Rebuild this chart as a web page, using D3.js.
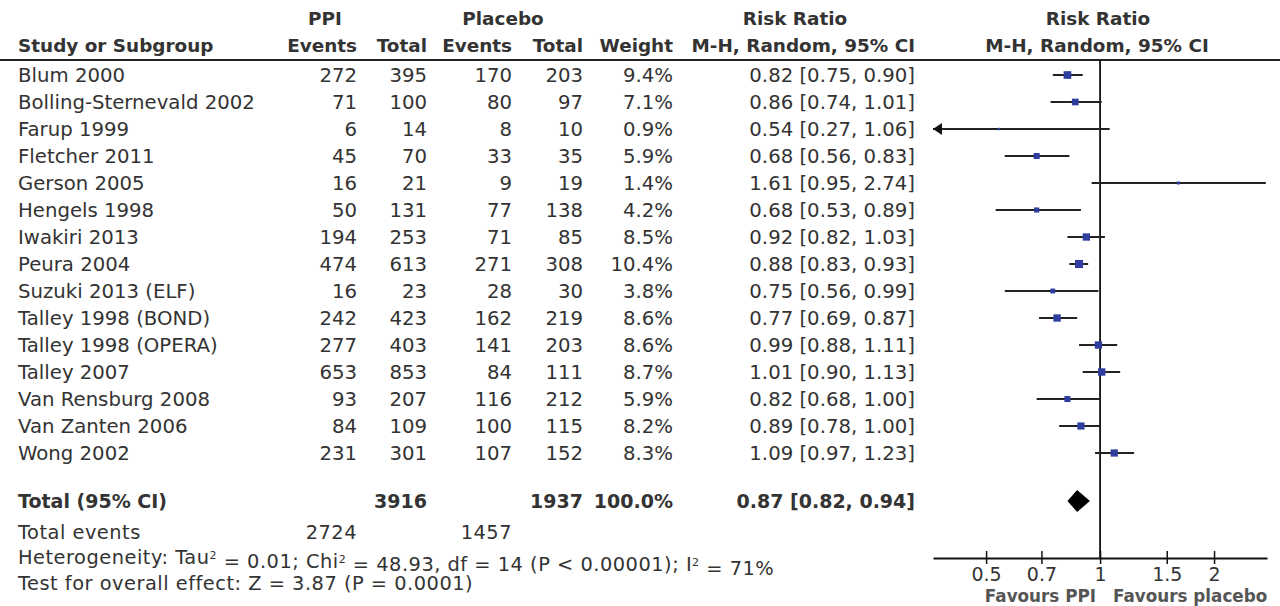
<!DOCTYPE html>
<html><head><meta charset="utf-8">
<script src="https://cdn.jsdelivr.net/npm/d3@7"></script>
<style>
html,body{margin:0;padding:0;background:#fff;}
svg text{font-family:"DejaVu Sans",sans-serif;font-size:19.7px;fill:#333;}
</style></head>
<body><svg id="c" width="1280" height="606"></svg>
<script>
const studies = ["Blum 2000","Bolling-Sternevald 2002","Farup 1999","Fletcher 2011","Gerson 2005","Hengels 1998","Iwakiri 2013","Peura 2004","Suzuki 2013 (ELF)","Talley 1998 (BOND)","Talley 1998 (OPERA)","Talley 2007","Van Rensburg 2008","Van Zanten 2006","Wong 2002"];
const ppiEvents = [272,71,6,45,16,50,194,474,16,242,277,653,93,84,231];
const ppiTotal = [395,100,14,70,21,131,253,613,23,423,403,853,207,109,301];
const plEvents = [170,80,8,33,9,77,71,271,28,162,141,84,116,100,107];
const plTotal = [203,97,10,35,19,138,85,308,30,219,203,111,212,115,152];
const weights = [9.4,7.1,0.9,5.9,1.4,4.2,8.5,10.4,3.8,8.6,8.6,8.7,5.9,8.2,8.3];
const rr = [0.82,0.86,0.54,0.68,1.61,0.68,0.92,0.88,0.75,0.77,0.99,1.01,0.82,0.89,1.09];
const lo = [0.75,0.74,0.27,0.56,0.95,0.53,0.82,0.83,0.56,0.69,0.88,0.90,0.68,0.78,0.97];
const hi = [0.90,1.01,1.06,0.83,2.74,0.89,1.03,0.93,0.99,0.87,1.11,1.13,1.00,1.00,1.23];
const total = {ppiTotal:3916, plTotal:1937, weight:"100.0%", rr:0.87, lo:0.82, hi:0.94, ppiEvents:2724, plEvents:1457};
const tickVals = [0.5,0.7,1,1.5,2];
const tickLabels = ["0.5","0.7","1","1.5","2"];
const domainRR = [0.362,2.76];

const svg = d3.select("#c");
const f2 = d3.format(".2f");
const colRight = {pe:357, pt:427, le:512, lt:583, w:673, rr:915};
const rowY = d3.scaleLinear().domain([0,1]).range([75,102]);
const x = d3.scaleLog().domain(domainRR).range([933,1267]);

function txt(xp, yp, s, anchor, bold, fill, size){
  const t = svg.append("text").attr("x",xp).attr("y",yp).attr("dy","0.36em")
    .attr("text-anchor",anchor||"start").style("font-weight",bold?"bold":"normal")
    .style("fill",fill||"#333").text(s);
  if(size) t.style("font-size",size+"px");
  return t;
}
const HB = 18.4; // header bold size
// headers
txt(325,18,"PPI","middle",true,null,HB);
txt(503,18,"Placebo","middle",true,null,HB);
txt(795,18,"Risk Ratio","middle",true,null,HB);
txt(1098,18,"Risk Ratio","middle",true,null,HB);
txt(18,45,"Study or Subgroup","start",true,null,HB);
txt(colRight.pe,45,"Events","end",true,null,HB);
txt(colRight.pt,45,"Total","end",true,null,HB);
txt(colRight.le,45,"Events","end",true,null,HB);
txt(colRight.lt,45,"Total","end",true,null,HB);
txt(colRight.w,45,"Weight","end",true,null,HB);
txt(colRight.rr,45,"M-H, Random, 95% CI","end",true,null,HB);
txt(1097,45,"M-H, Random, 95% CI","middle",true,null,HB);
svg.append("line").attr("x1",0).attr("x2",1280).attr("y1",60).attr("y2",60)
  .attr("stroke","#222").attr("stroke-width",2.2);

studies.forEach((s,i)=>{
  const y = rowY(i);
  txt(18,y,s);
  txt(colRight.pe,y,ppiEvents[i],"end");
  txt(colRight.pt,y,ppiTotal[i],"end");
  txt(colRight.le,y,plEvents[i],"end");
  txt(colRight.lt,y,plTotal[i],"end");
  txt(colRight.w,y,weights[i].toFixed(1)+"%","end");
  txt(colRight.rr,y,`${f2(rr[i])} [${f2(lo[i])}, ${f2(hi[i])}]`,"end");
});

const yTot = 501;
txt(18,yTot,"Total (95% CI)","start",true,null,19);
txt(colRight.pt,yTot,total.ppiTotal,"end",true,null,19);
txt(colRight.lt,yTot,total.plTotal,"end",true,null,19);
txt(colRight.w,yTot,total.weight,"end",true,null,19);
txt(colRight.rr,yTot,`${f2(total.rr)} [${f2(total.lo)}, ${f2(total.hi)}]`,"end",true,null,19);
const BS = 19.4;
txt(18,532,"Total events",null,false,null,BS).style("letter-spacing","0.5px");
txt(colRight.pe,532,total.ppiEvents,"end",false,null,BS).style("letter-spacing","0.5px");
txt(colRight.le,532,total.plEvents,"end",false,null,BS).style("letter-spacing","0.5px");
const het = txt(18,557,"",null,false,null,BS).style("letter-spacing","0.5px");
het.append("tspan").text("Heterogeneity: Tau");
het.append("tspan").attr("dy","-0.42em").style("font-size","11px").text("2");
het.append("tspan").attr("dy","0.42em").text(" = 0.01; Chi");
het.append("tspan").attr("dy","-0.42em").style("font-size","11px").text("2");
het.append("tspan").attr("dy","0.42em").text(" = 48.93, df = 14 (P < 0.00001); I");
het.append("tspan").attr("dy","-0.42em").style("font-size","11px").text("2");
het.append("tspan").attr("dy","0.42em").text(" = 71%");
txt(18,583,"Test for overall effect: Z = 3.87 (P = 0.0001)",null,false,null,BS).style("letter-spacing","0.5px");

// plot
const axisY = 558;
svg.append("line").attr("x1",x(1)).attr("x2",x(1)).attr("y1",60).attr("y2",axisY)
  .attr("stroke","#111").attr("stroke-width",1.8);

const g = svg.append("g");
studies.forEach((s,i)=>{
  const y = rowY(i);
  const l = Math.max(lo[i],domainRR[0]), h = Math.min(hi[i],domainRR[1]);
  g.append("line").attr("x1",x(l)).attr("x2",x(h)).attr("y1",y).attr("y2",y)
    .attr("stroke","#222").attr("stroke-width",2);
  if(lo[i] < domainRR[0]){
    const ax = x(domainRR[0]);
    g.append("path").attr("d",`M${ax},${y} L${ax+9},${y-6} L${ax+9},${y+6} Z`).attr("fill","#111");
  }
  const sz = 2.5*Math.sqrt(weights[i]);
  g.append("rect").attr("x",x(rr[i])-sz/2).attr("y",y-sz/2).attr("width",sz).attr("height",sz)
    .attr("fill","#2e3d9e");
});
// diamond
svg.append("path").attr("d",`M${x(total.lo)},${yTot} L${x(total.rr)},${yTot-11} L${x(total.hi)},${yTot} L${x(total.rr)},${yTot+11} Z`)
  .attr("fill","#000");

const axis = d3.axisBottom(x).tickValues(tickVals).tickFormat((d,i)=>tickLabels[i]).tickSizeInner(6).tickSizeOuter(0).tickPadding(4);
const ag = svg.append("g").attr("transform",`translate(0,${axisY})`).call(axis);
ag.select(".domain").attr("stroke","#111").attr("stroke-width",1.8);
ag.selectAll(".tick line").attr("y1",-7).attr("y2",6).attr("stroke","#111").attr("stroke-width",1.5);
ag.selectAll(".tick text").style("font-family","DejaVu Sans").style("font-size","19px").style("fill","#333").attr("dy","0.71em");
txt(1096,596,"Favours PPI","end",true,"#555",16.8);
txt(1113,596,"Favours placebo","start",true,"#555",16.8);
</script></body></html>
